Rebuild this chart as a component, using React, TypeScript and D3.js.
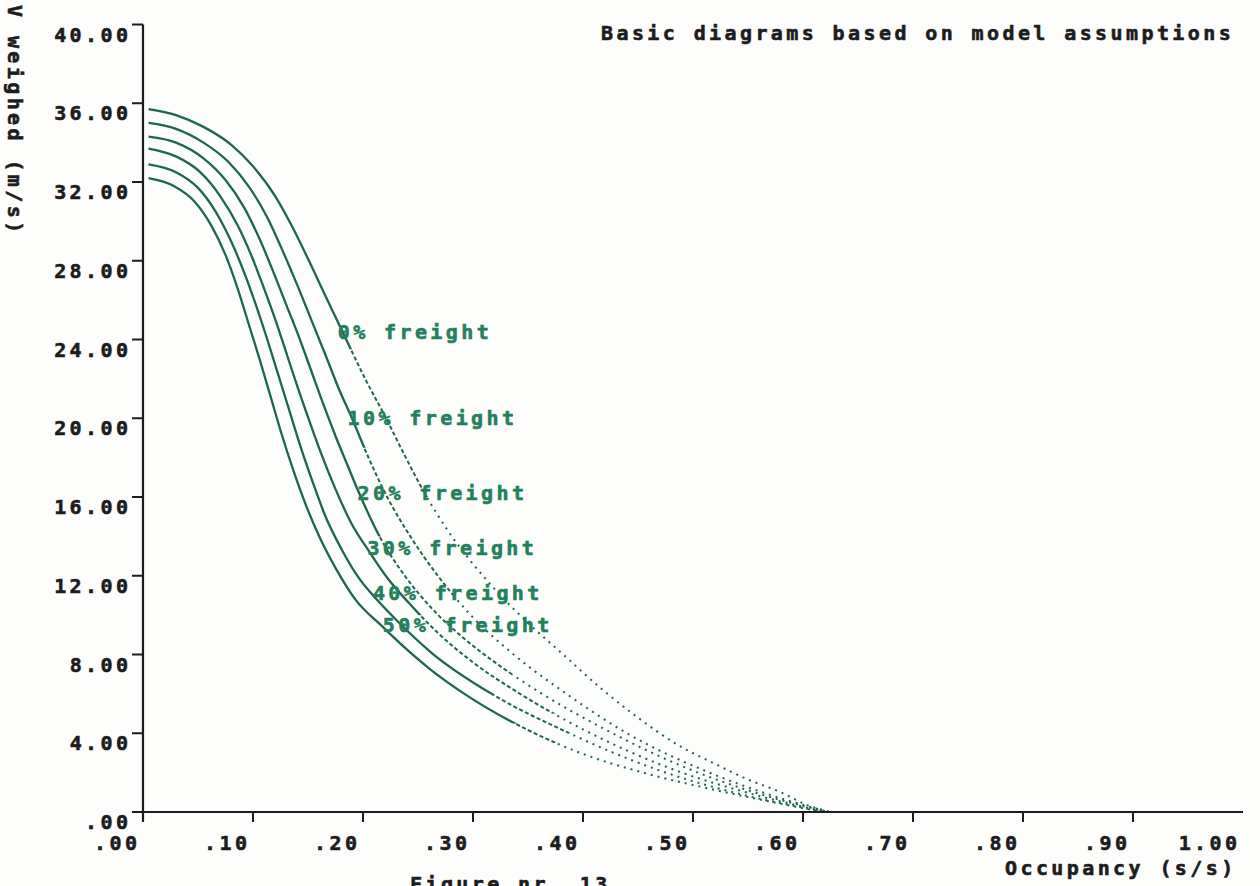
import React from "react";
import * as d3 from "d3";

const W = 1260;
const H = 886;

const occTickValues = [0, 0.1, 0.2, 0.3, 0.4, 0.5, 0.6, 0.7, 0.8, 0.9];
const occTickLabels = [".00", ".10", ".20", ".30", ".40", ".50", ".60", ".70", ".80", ".90"];
const occEndValue = 1.0;
const occEndLabel = "1.00";
const speedTickValues = [0, 4, 8, 12, 16, 20, 24, 28, 32, 36, 40];
const speedTickLabels = [".00", "4.00", "8.00", "12.00", "16.00", "20.00", "24.00", "28.00", "32.00", "36.00", "40.00"];

const titleText = "Basic diagrams based on model assumptions";
const xTitleText = "Occupancy (s/s)";
const yTitleText = "V weighed (m/s)";
const footerText = "Figure nr. 13";

const freightNames = ["0% freight", "10% freight", "20% freight", "30% freight", "40% freight", "50% freight"];

const occ0 = [0.005, 0.03, 0.055, 0.08, 0.1, 0.12, 0.135, 0.15, 0.166, 0.183, 0.202, 0.221, 0.238, 0.256, 0.277, 0.3, 0.325, 0.352, 0.38, 0.418, 0.445, 0.488, 0.518, 0.55, 0.58, 0.604, 0.625];
const v0 = [35.7, 35.4, 34.8, 33.9, 32.8, 31.3, 29.8, 28.1, 26.2, 24.2, 22, 20, 18.1, 16.2, 14.3, 12.6, 11, 9.5, 8.1, 6.2, 5.0, 3.35, 2.5, 1.65, 1.0, 0.35, 0];

const occ10 = [0.005, 0.03, 0.055, 0.078, 0.097, 0.113, 0.127, 0.14, 0.153, 0.166, 0.178, 0.19, 0.205, 0.222, 0.243, 0.268, 0.298, 0.337, 0.385, 0.44, 0.515, 0.563, 0.623];
const v10 = [35.0, 34.7, 34.0, 33.0, 31.7, 30.2, 28.5, 26.8, 25.0, 23.2, 21.5, 20, 18, 16, 14, 12, 10, 8, 6, 4, 2, 1, 0];

const occ20 = [0.005, 0.03, 0.055, 0.075, 0.092, 0.106, 0.118, 0.13, 0.142, 0.153, 0.164, 0.175, 0.186, 0.198, 0.215, 0.238, 0.265, 0.29, 0.32, 0.36, 0.42, 0.5, 0.553, 0.622];
const v20 = [34.3, 34.0, 33.2, 32.1, 30.7, 29.1, 27.5, 25.8, 24.1, 22.4, 20.7, 19.1, 17.6, 16, 14, 12, 10.2, 8.9, 7.6, 6.1, 4.2, 2.1, 1.05, 0];

const occ30 = [0.005, 0.03, 0.052, 0.07, 0.086, 0.099, 0.11, 0.121, 0.131, 0.141, 0.151, 0.162, 0.175, 0.19, 0.206, 0.222, 0.242, 0.268, 0.3, 0.34, 0.4, 0.485, 0.545, 0.621];
const v30 = [33.7, 33.3, 32.5, 31.3, 29.8, 28.2, 26.6, 24.9, 23.2, 21.5, 19.9, 18.2, 16.4, 14.6, 13.2, 11.9, 10.6, 9.1, 7.6, 6.1, 4.2, 2.1, 1.05, 0];

const occ40 = [0.005, 0.03, 0.05, 0.066, 0.08, 0.092, 0.103, 0.113, 0.123, 0.133, 0.143, 0.154, 0.166, 0.18, 0.196, 0.214, 0.233, 0.262, 0.32, 0.38, 0.47, 0.533, 0.62];
const v40 = [32.9, 32.5, 31.7, 30.5, 29.0, 27.4, 25.7, 24.0, 22.2, 20.4, 18.6, 16.8, 15.0, 13.4, 11.9, 10.7, 9.6, 8.1, 5.9, 4.2, 2.1, 1.05, 0];

const occ50 = [0.005, 0.028, 0.047, 0.062, 0.075, 0.086, 0.096, 0.106, 0.116, 0.126, 0.137, 0.148, 0.161, 0.176, 0.193, 0.218, 0.235, 0.26, 0.295, 0.356, 0.4, 0.458, 0.53, 0.618];
const v50 = [32.2, 31.8, 31.0, 29.8, 28.3, 26.6, 24.8, 23.0, 21.1, 19.2, 17.3, 15.6, 13.9, 12.3, 10.8, 9.4, 8.5, 7.3, 5.9, 4, 2.95, 1.95, 1, 0];

const seriesOcc = [occ0, occ10, occ20, occ30, occ40, occ50];
const seriesSpeed = [v0, v10, v20, v30, v40, v50];
const dashedBelowSpeed = [23.5, 18.5, 14, 10, 6, 4.5];
const dottedBelowSpeed = [16, 11, 7, 5, 4, 3.5];

const labelOcc = [0.177, 0.186, 0.195, 0.204, 0.209, 0.218];
const labelSpeed = [24.38, 20.01, 16.2, 13.41, 11.12, 9.5];

const FONT = "'DejaVu Sans Mono', monospace";
const FS = 20;
const LS = 3.4;
const INK = "#1c1c1c";
const CURVE = "#1d664f";
const LABEL = "#22805c";

export default function App() {
  const x = d3.scaleLinear().domain([0, 1]).range([143, 1243]);
  const y = d3.scaleLinear().domain([0, 40]).range([812, 24.5]);

  const line = d3
    .line<[number, number]>()
    .x((d) => x(d[0]))
    .y((d) => y(d[1]))
    .curve(d3.curveMonotoneX);

  const textStyle: React.CSSProperties = {
    fontFamily: FONT,
    fontWeight: "bold",
    fontSize: FS,
    letterSpacing: LS,
  };

  const T = (props: any) => (
    <text {...props} stroke={props.fill} strokeWidth={0.6} style={textStyle} />
  );

  return (
    <svg
      width={W}
      height={H}
      style={{ position: "absolute", left: 0, top: 0, background: "#fdfdfc" }}
    >
      <rect x={0} y={0} width={W} height={H} fill="#fdfdfc" />

      <defs>
        {seriesOcc.map((_, i) => {
          const yDash = y(dashedBelowSpeed[i]);
          const yDot = y(dottedBelowSpeed[i]);
          return (
            <React.Fragment key={"cp" + i}>
              <clipPath id={"solid" + i}>
                <rect x={0} y={0} width={W} height={yDash} />
              </clipPath>
              <clipPath id={"dash" + i}>
                <rect x={0} y={yDash} width={W} height={yDot - yDash} />
              </clipPath>
              <clipPath id={"dot" + i}>
                <rect x={0} y={yDot} width={W} height={H - yDot} />
              </clipPath>
            </React.Fragment>
          );
        })}
      </defs>

      {/* curves */}
      {seriesOcc.map((occ, i) => {
        const sp = seriesSpeed[i];
        const pts: [number, number][] = occ.map((o, j) => [o, sp[j]]);
        const d = line(pts) || "";
        return (
          <g key={i}>
            <path d={d} fill="none" stroke={CURVE} strokeWidth={2.3} clipPath={`url(#solid${i})`} />
            <path
              d={d}
              fill="none"
              stroke={CURVE}
              strokeWidth={2}
              strokeDasharray="4 2.5"
              clipPath={`url(#dash${i})`}
            />
            <path
              d={d}
              fill="none"
              stroke={CURVE}
              strokeWidth={2}
              strokeDasharray="2 5"
              clipPath={`url(#dot${i})`}
            />
          </g>
        );
      })}

      {/* axes */}
      <line x1={x(0)} x2={x(0)} y1={y(40)} y2={y(0) + 10} stroke={INK} strokeWidth={2.2} />
      <line x1={x(0) - 11} x2={x(occEndValue)} y1={y(0)} y2={y(0)} stroke={INK} strokeWidth={2.2} />
      {speedTickValues
        .filter((v) => v > 0)
        .map((v) => (
          <line key={"yt" + v} x1={x(0) - 11} x2={x(0)} y1={y(v)} y2={y(v)} stroke={INK} strokeWidth={2} />
        ))}
      {occTickValues
        .filter((v) => v > 0)
        .map((v) => (
          <line key={"xt" + v} x1={x(v)} x2={x(v)} y1={y(0)} y2={y(0) + 10} stroke={INK} strokeWidth={2} />
        ))}

      {/* y tick labels */}
      {speedTickValues.map((v, i) => (
        <T key={"yl" + v} x={x(0) - 15 + LS} y={y(v) + 17} textAnchor="end" fill={INK}>
          {speedTickLabels[i]}
        </T>
      ))}

      {/* x tick labels */}
      {occTickValues.map((v, i) => (
        <T key={"xl" + v} x={x(v) - 6 + LS} y={y(0) + 38} textAnchor="end" fill={INK}>
          {occTickLabels[i]}
        </T>
      ))}
      <T x={x(occEndValue) - 6 + LS} y={y(0) + 38} textAnchor="end" fill={INK}>
        {occEndLabel}
      </T>

      {/* titles */}
      <T x={601} y={40} fill={INK}>
        {titleText}
      </T>
      <T x={1005} y={875} fill={INK}>
        {xTitleText}
      </T>
      <T transform="translate(8,5) rotate(90)" x={0} y={0} fill={INK}>
        {yTitleText}
      </T>
      <T x={410} y={891} fill={INK}>
        {footerText}
      </T>

      {/* curve labels */}
      {freightNames.map((name, i) => (
        <T key={name} x={x(labelOcc[i])} y={y(labelSpeed[i]) + 7} fill={LABEL}>
          {name}
        </T>
      ))}
    </svg>
  );
}
